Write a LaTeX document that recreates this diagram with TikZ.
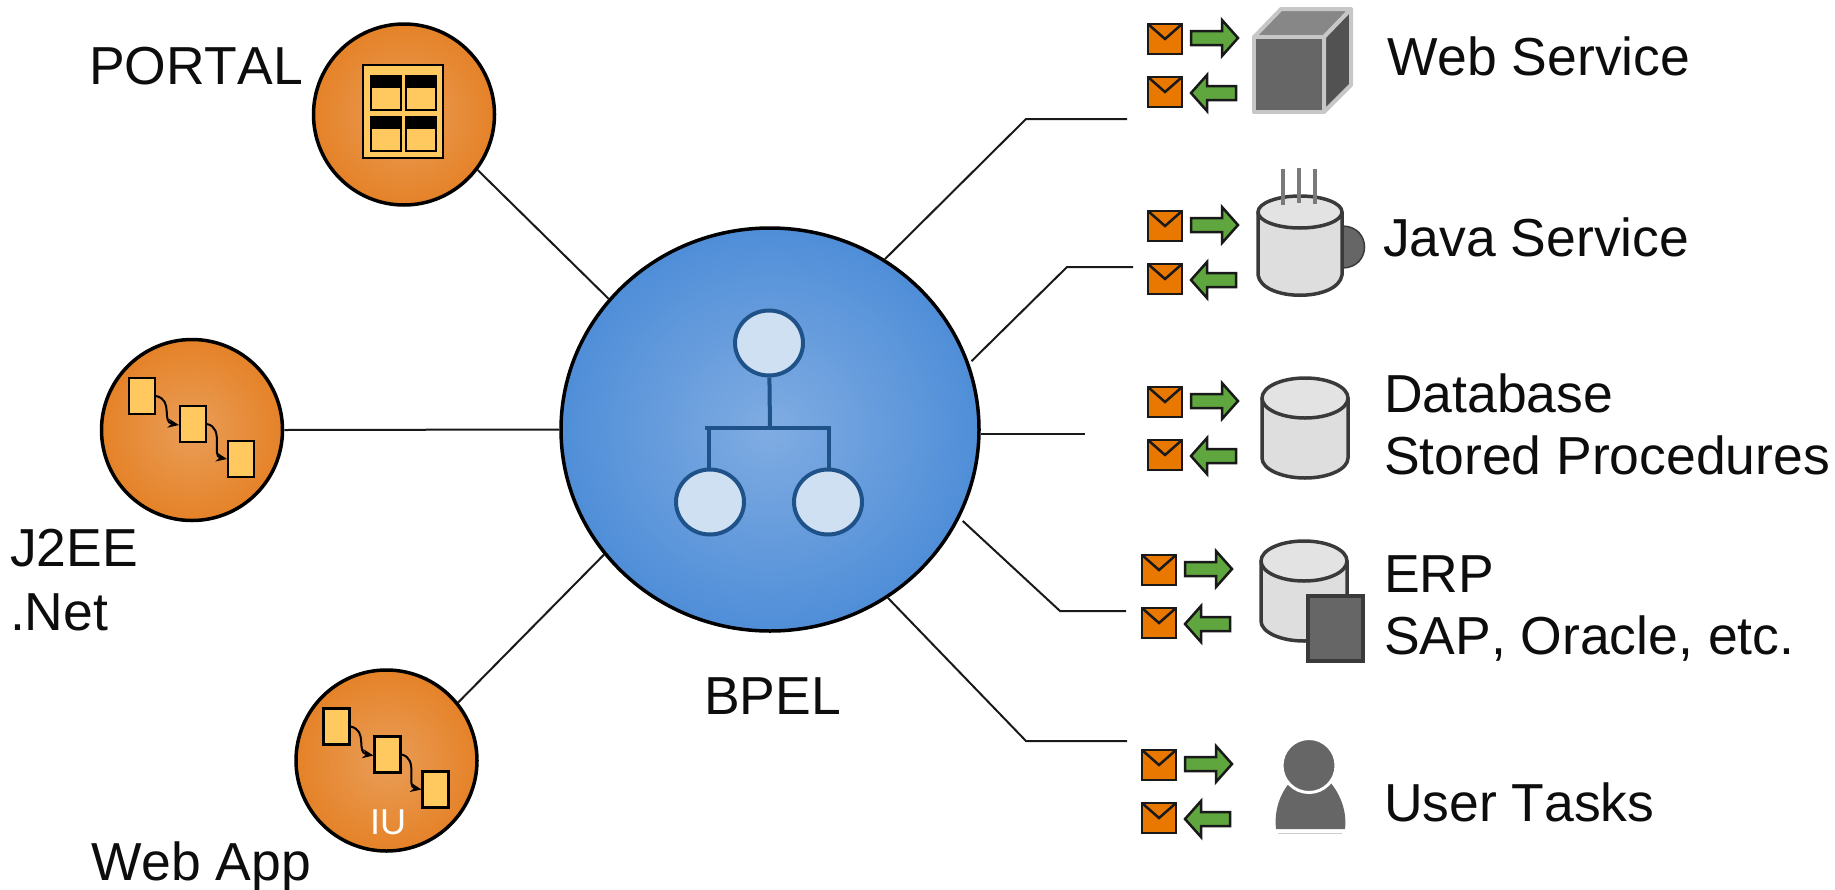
\documentclass[tikz,border=0pt]{standalone}
\usepackage{fontspec}
\setmainfont[Kerning=Off]{Liberation Sans}
\usetikzlibrary{shapes.geometric,arrows.meta}
\definecolor{orO}{HTML}{E58228}
\definecolor{orI}{HTML}{E99E58}
\definecolor{blO}{HTML}{4F8ED8}
\definecolor{blI}{HTML}{80ACE2}
\definecolor{navy}{HTML}{1F5288}
\definecolor{pale}{HTML}{CFE0F3}
\definecolor{tan}{HTML}{FFC95F}
\definecolor{envC}{HTML}{E87800}
\definecolor{grn}{HTML}{5FA63F}
\definecolor{dk}{HTML}{3A3A3A}
\definecolor{gr}{HTML}{666666}
\tikzset{
  x=1pt,y=-1pt,
  lbl/.style={anchor=base west,inner sep=0pt,outer sep=0pt,font=\fontsize{53.5}{53.5}\selectfont,text=black!95},
  orb/.style={circle,draw=black,line width=3.5pt,minimum size=181pt,inner sep=0pt,inner color=orI,outer color=orO},
  link/.style={draw=black!90,line width=2pt},
  tierline/.style={draw=navy,line width=4pt},
  tiernode/.style={ellipse,draw=navy,line width=4pt,fill=pale,minimum width=68pt,minimum height=65pt,inner sep=0pt},
  box/.style={draw=black,line width=2.5pt,fill=tan},
  envl/.style={draw=black!90,line width=2.5pt,line join=miter},
  arw/.style={draw=black!90,line width=2.5pt,fill=grn,line join=miter},
  gear/.style={draw=dk,line width=3.5pt,line join=round},
  msgs/.pic={
    \draw[envl,fill=envC] (0,0) rectangle (34,30);
    \draw[envl] (0,0) -- (17,15) -- (34,0);
    \draw[envl,fill=envC] (0,53) rectangle (34,83);
    \draw[envl] (0,53) -- (17,68) -- (34,53);
    \draw[arw] (43,7) -- (74,7) -- (74,-4) -- (90,14) -- (74,32) -- (74,21) -- (43,21) -- cycle;
    \draw[arw] (88,62) -- (59,62) -- (59,51) -- (43,69) -- (59,87) -- (59,76) -- (88,76) -- cycle;
  },
  flow/.pic={
    \draw[box] (0,0) rectangle (26,36);
    \draw[box] (51,28) rectangle (77,64);
    \draw[box] (99,63) rectangle (125,99);
    \draw[black,line width=2pt,-{Stealth[length=11pt,width=9pt]}] (27,18) .. controls (45,22) and (32,44) .. (50,47);
    \draw[black,line width=2pt,-{Stealth[length=11pt,width=9pt]}] (78,46) .. controls (96,50) and (82,78) .. (98,81);
  },
  cyl/.pic={
    \draw[gear,fill=black!13] (-43,0) -- (-43,60) arc[start angle=180,end angle=360,x radius=43pt,y radius=20pt] -- (43,0) -- cycle;
    \draw[gear,fill=black!11] (0,0) ellipse[x radius=43pt,y radius=20pt];
  },
  pane/.pic={
    \draw[draw=black,line width=2pt,fill=tan] (0,0) rectangle (30,34);
    \fill[black] (0,0) rectangle (30,12);
  }
}
\begin{document}
\begin{tikzpicture}
\useasboundingbox (0,0) rectangle (1835,889);

% hub
\node[ellipse,draw=black,line width=3.5pt,minimum width=418pt,minimum height=403pt,inner sep=0pt,inner color=blI,outer color=blO] (bpel) at (770,429.5) {};
\coordinate (bar) at (770,428);
\coordinate (barL) at (705,428);
\coordinate (barR) at (831,428);
\node[tiernode] (top) at (769,343) {};
\node[tiernode] (left) at (710,502) {};
\node[tiernode] (right) at (828,502) {};
\draw[tierline] (top) -- (bar);
\draw[tierline] (barL) -- (barR);
\draw[tierline] (left.north) ++(-1,0) -- ++(0,-41);
\draw[tierline] (right.north) ++(1,0) -- ++(0,-41);

% client orbs
\node[orb] (portal) at (404,114.5) {};
\node[orb] (j2ee) at (192,430) {};
\node[orb] (webapp) at (386.5,760.5) {};

% left connectors
\draw[link] (portal.-37) -- (bpel.141);
\draw[link] (j2ee.0) -- (bpel.180);
\draw[link] (webapp.39.5) -- (bpel.217);

% right connectors
\coordinate (a1) at (1026,119); \coordinate (a2) at (1127,119);
\coordinate (b1) at (1067,267); \coordinate (b2) at (1133,267);
\coordinate (c2) at (1085,434);
\coordinate (d1) at (1060,611); \coordinate (d2) at (1126,611);
\coordinate (e1) at (1026,741); \coordinate (e2) at (1127,741);
\draw[link] (bpel.56) -- (a1) -- (a2);
\draw[link] ([xshift=3pt]bpel.19) -- (b1) -- (b2);
\draw[link] (bpel.-1 |- c2) -- (c2);
\draw[link] ([shift={(3pt,-3pt)}]bpel.-25) -- (d1) -- (d2);
\draw[link] (bpel.-55.5) -- (e1) -- (e2);

% portal icon
\draw[box] (363,65) rectangle (443,158);
\pic at (371,76) {pane};
\pic at (406,76) {pane};
\pic at (371,117) {pane};
\pic at (406,117) {pane};

% flow icons
\pic at (323.5,708.5) {flow};
\pic at (129,378) {flow};
\node[anchor=base,inner sep=0pt,text=white,font=\fontsize{36}{36}\selectfont] (iu) at (388,834) {IU};

% messages
\pic at (1148,24) {msgs};
\pic at (1148,211) {msgs};
\pic at (1148,387) {msgs};
\pic at (1142,555) {msgs};
\pic at (1142,750) {msgs};

% cube
\begin{scope}[draw=black!22,line width=4pt,line join=round]
\draw[fill=black!47] (1254,37) -- (1281,9) -- (1351,9) -- (1324,37) -- cycle;
\draw[fill=black!68] (1324,37) -- (1351,9) -- (1351,85) -- (1324,112) -- cycle;
\draw[fill=gr] (1254,37) rectangle (1324,112);
\end{scope}

% mug
\draw[draw=dk,line width=1.5pt,fill=gr] (1342,226) .. controls (1372,226) and (1372,268) .. (1342,268) -- cycle;
\draw[gear,fill=black!13] (1258,212) -- (1258,275) .. controls (1262,302) and (1338,302) .. (1342,275) -- (1342,212) -- cycle;
\draw[gear,fill=black!11] (1300,212) ellipse[x radius=42pt,y radius=16pt];
\draw[draw=black!52,line width=3.5pt] (1283,169) -- (1283,205);
\draw[draw=black!52,line width=3.5pt] (1299,168) -- (1299,203);
\draw[draw=black!52,line width=3.5pt] (1315,169) -- (1315,204);

% database
\pic at (1305,398) {cyl};
% erp
\pic at (1304,561) {cyl};
\draw[draw=dk,line width=4pt,fill=gr] (1308,596) rectangle (1363,661);

% user
\fill[gr] (1276,829) .. controls (1274,810) and (1280,794) .. (1290,782) -- (1330,782) .. controls (1340,794) and (1347,810) .. (1345,829) -- cycle;
\draw[draw=white,line width=3pt,fill=gr] (1309,765.5) circle[radius=27pt];
\draw[draw=black!20,line width=1pt] (1278,833) -- (1342,833);

% labels
\node[lbl] (t1) at (89,84) {PORTAL};
\node[lbl] (t2) at (10,566) {J2EE};
\node[lbl] (t3) at (10,630) {.Net};
\node[lbl] (t4) at (91,880) {Web App};
\node[lbl] (t5) at (704,714) {BPEL};
\node[lbl] (t6) at (1387,75) {Web Service};
\node[lbl] (t7) at (1383,256) {Java Service};
\node[lbl] (t8) at (1384,412) {Database};
\node[lbl] (t9) at (1384,474) {Stored Procedures};
\node[lbl] (t10) at (1384,592) {ERP};
\node[lbl] (t11) at (1384,654) {SAP, Oracle, etc.};
\node[lbl] (t12) at (1384,821) {User Tasks};
\end{tikzpicture}
\end{document}
